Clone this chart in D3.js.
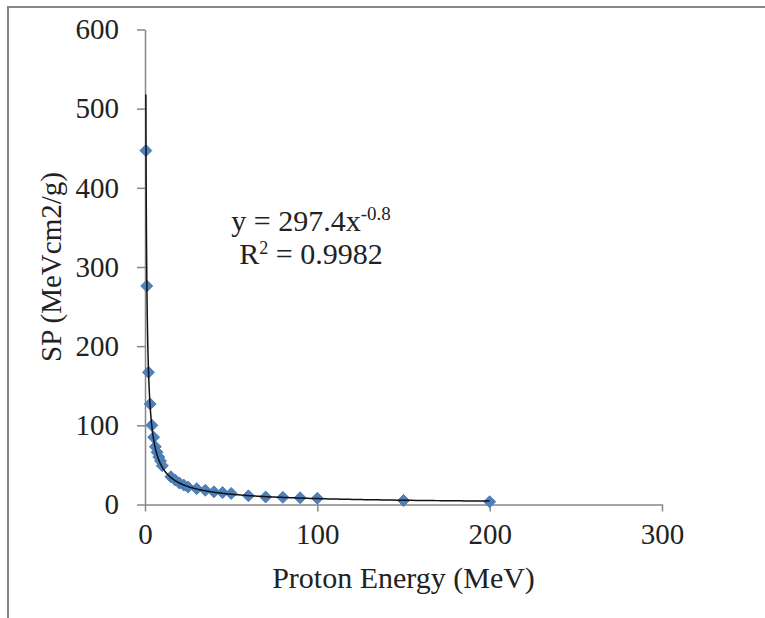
<!DOCTYPE html>
<html>
<head>
  <meta charset="utf-8">
  <script src="https://d3js.org/d3.v7.min.js"></script>
  <style>
  body {
    margin: 0;
    background: #fff;
  }
  svg text {
    font-family: "Times New Roman", "Liberation Serif", Times, "DejaVu Serif", serif;
    fill: #222;
  }
  .axis path, .axis line {
    stroke: #878787;
    stroke-width: 1.5px;
  }
  .axis text {
    font-size: 29px;
  }
</style>
</head>
<body>
<script>

  // proton energy (MeV) and stopping power (MeV cm2/g)
  var energy = [0.5, 1, 2, 3, 4, 5, 6, 7, 8, 9, 10, 15, 17.5, 20, 22.5, 25, 30, 35, 40, 45, 50, 60, 70, 80, 90, 100, 150, 200];
  var sp = [447, 276, 167, 127, 100, 85, 73, 66, 60, 55, 49, 35, 31, 27, 24.5, 22, 20, 18, 16, 15, 14, 11, 9.5, 9, 8.5, 7.8, 5, 3.5];

  var xTicks = [0, 100, 200, 300];
  var yTicks = [0, 100, 200, 300, 400, 500, 600];

  // power trendline shown on the chart: y = a * x^b
  var fitA = 297.4, fitB = -0.8;

  var width = 765, height = 618;
  var margin = {left: 145, right: 103, top: 29.5, bottom: 113.5};

  var svg = d3.select("body").append("svg")
    .attr("width", width)
    .attr("height", height);

  // chart frame (cut off on the right and bottom)
  svg.append("rect")
    .attr("x", 8).attr("y", 7)
    .attr("width", 900).attr("height", 900)
    .attr("fill", "none")
    .attr("stroke", "#878787")
    .attr("stroke-width", 2);

  var x = d3.scaleLinear().domain([0, 300]).range([margin.left, width - margin.right]);
  var y = d3.scaleLinear().domain([0, 600]).range([height - margin.bottom, margin.top]);

  var xAxis = d3.axisBottom(x).tickValues(xTicks).tickSize(7).tickSizeOuter(0).tickPadding(12);
  var yAxis = d3.axisLeft(y).tickValues(yTicks).tickSize(8).tickSizeOuter(0).tickPadding(18);

  svg.append("g")
    .attr("class", "x axis")
    .attr("transform", "translate(0," + y(0) + ")")
    .call(xAxis);

  svg.append("g")
    .attr("class", "y axis")
    .attr("transform", "translate(" + x(0) + ",0)")
    .call(yAxis);

  svg.selectAll(".axis text").attr("font-family", null);

  // trendline over the data range
  var xs = d3.range(0, 401).map(i => energy[0] * Math.pow(d3.max(energy) / energy[0], i / 400));
  var line = d3.line()
    .x(d => x(d))
    .y(d => y(fitA * Math.pow(d, fitB)));

  // markers
  var pts = energy.map((e, i) => ({e: e, v: sp[i]}));
  svg.append("g").selectAll("path")
    .data(pts)
    .enter().append("path")
    .attr("d", d3.symbol().type(d3.symbolSquare).size(72))
    .attr("transform", d => "translate(" + x(d.e) + "," + y(d.v) + ") rotate(45)")
    .attr("fill", "#4f81bd")
    .attr("stroke", "#4272ad")
    .attr("stroke-width", 0.8);

  svg.append("path")
    .datum(xs)
    .attr("d", line)
    .attr("fill", "none")
    .attr("stroke", "#111")
    .attr("stroke-width", 1.5);

  // equation
  var eq = svg.append("text")
    .attr("x", 311).attr("y", 231)
    .attr("text-anchor", "middle")
    .style("font-size", "30px");
  eq.append("tspan").text("y = 297.4x");
  eq.append("tspan").attr("dy", -11).style("font-size", "19px").text("-0.8");

  var r2 = svg.append("text")
    .attr("x", 311).attr("y", 264)
    .attr("text-anchor", "middle")
    .style("font-size", "30px");
  r2.append("tspan").text("R");
  r2.append("tspan").attr("dy", -10).style("font-size", "18px").text("2");
  r2.append("tspan").attr("dy", 10).text(" = 0.9982");

  // axis titles
  svg.append("text")
    .attr("x", x(150)).attr("y", 588)
    .attr("text-anchor", "middle")
    .style("font-size", "30px")
    .text("Proton Energy (MeV)");

  svg.append("text")
    .attr("transform", "translate(61," + y(300) + ") rotate(-90)")
    .attr("text-anchor", "middle")
    .style("font-size", "29px")
    .text("SP (MeVcm2/g)");

</script>
</body>
</html>
